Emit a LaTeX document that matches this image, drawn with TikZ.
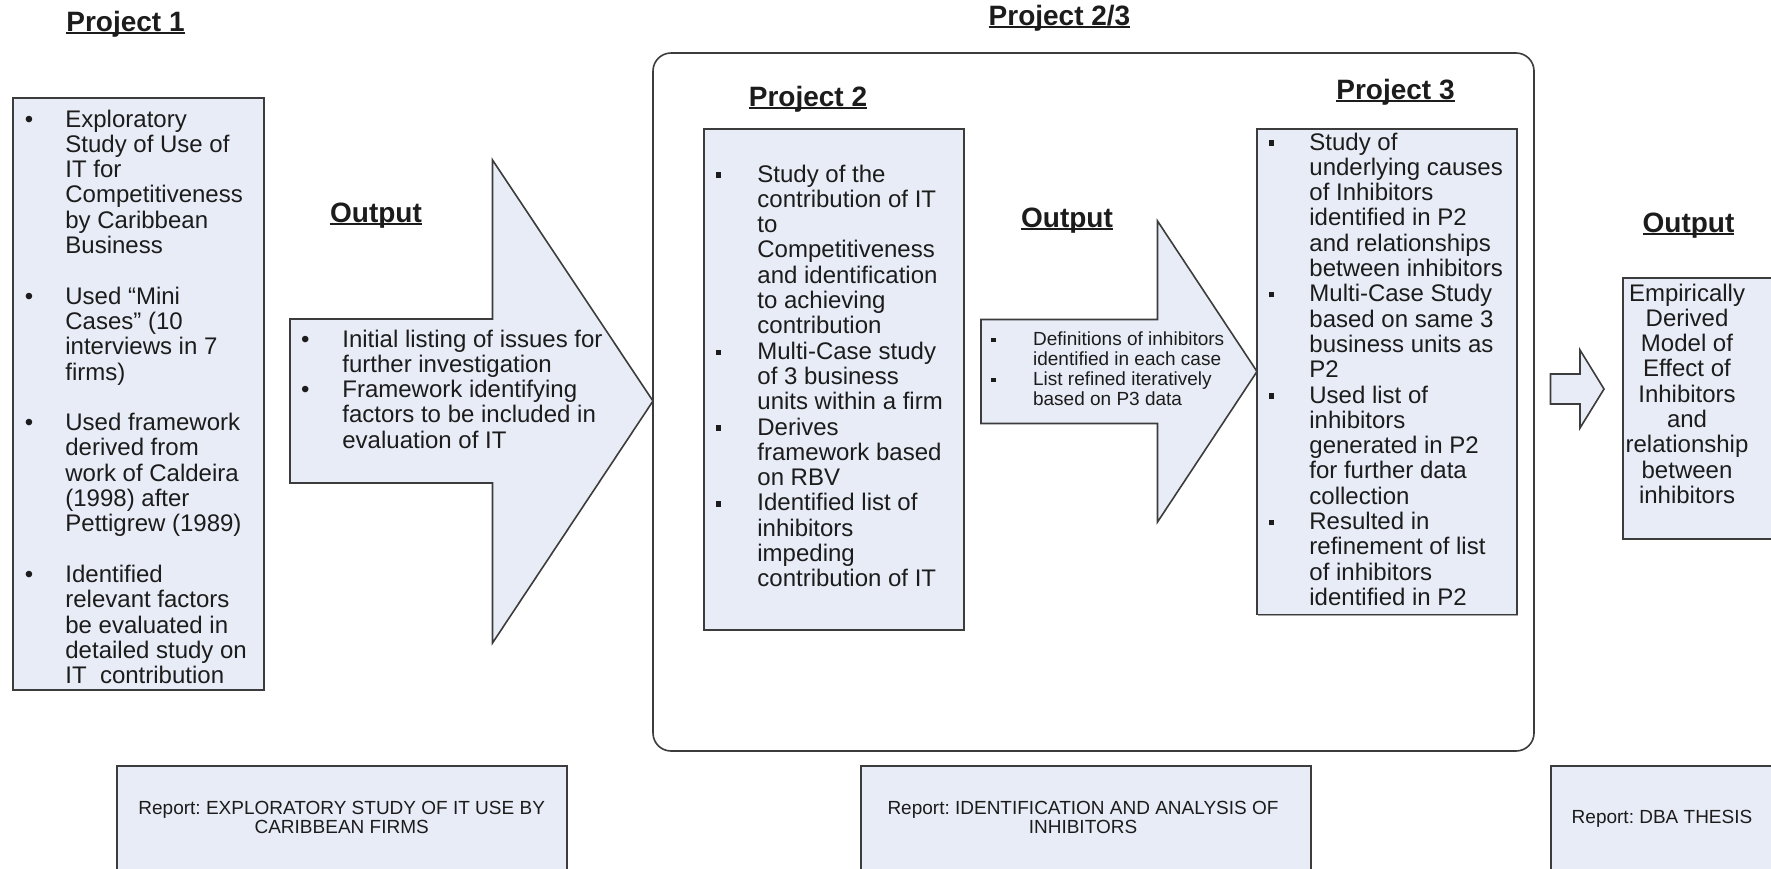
\documentclass[tikz,border=0pt]{standalone}
\usepackage{fontspec}
\setmainfont{Liberation Sans}
\usetikzlibrary{fit,shadows}
\definecolor{boxfill}{RGB}{232,236,246}
\definecolor{boxline}{RGB}{60,60,60}
\definecolor{txt}{RGB}{28,28,28}
\frenchspacing
\newcommand\ulin[1]{\setbox0\hbox{#1}\rlap{\rule[-1.6pt]{\wd0}{0.9pt}}\box0}
\newcommand\rb{\textbullet}
\newcommand\sq{\raisebox{2.2pt}{\rule{2.6pt}{2.6pt}}}
\newcommand\ssq{\raisebox{1.7pt}{\rule{2.2pt}{2.2pt}}}
\newcommand\itm[4]{\hangindent=#1\hangafter=1\noindent\makebox[#1][l]{\hspace{#2}#3}#4\par}
\newcommand\bodyfont{\fontsize{12}{12.65}\selectfont\frenchspacing}
\newcommand\smfont{\fontsize{9.5}{9.9}\selectfont\frenchspacing}
\tikzset{
  box/.style={draw=boxline, fill=boxfill, line width=0.8pt, inner sep=0pt,
    drop shadow={shadow xshift=0.7pt, shadow yshift=-0.7pt, fill=black!35, opacity=1}},
  frame/.style={draw=boxline, fill=white, line width=0.8pt, inner sep=0pt, rounded corners=9pt},
  blockarrow/.style={draw=boxline, fill=boxfill, line width=0.8pt, line join=miter},
  tx/.style={inner sep=0pt, text=txt, anchor=base west},
  ttl/.style={inner sep=0pt, text=txt, anchor=base, font=\fontsize{14}{16}\selectfont\bfseries},
}
\begin{document}
\begin{tikzpicture}[x=0.5pt,y=-0.5pt]
\useasboundingbox (0,0) rectangle (1771,868);
\clip (0,0) rectangle (1771,868);

% titles
\node[ttl] (t1) at (125.5,31) {\ulin{Project 1}};
\node[ttl] (t23) at (1059.5,25) {\ulin{Project 2/3}};
\node[ttl] (o1) at (376,222) {\ulin{Output}};

% frame for projects 2/3
\node[frame, fit={(653,53) (1534,751)}] (frame) {};
\node[ttl] (t2) at (808,106) {\ulin{Project 2}};
\node[ttl] (t3) at (1395.5,99) {\ulin{Project 3}};
\node[ttl] (o2) at (1067,227) {\ulin{Output}};
\node[ttl] (o3) at (1688.5,232) {\ulin{Output}};

% boxes
\node[box, fit={(13,98) (264,690)}] (p1box) {};
\node[box, fit={(704,129) (964,630)}] (p2box) {};
\node[box, fit={(1257,129) (1517,614.5)}] (p3box) {};
\node[box, fit={(1623,278) (1800,539)}] (o3box) {};
\node[box, fit={(117,766) (567,900)}] (r1box) {};
\node[box, fit={(861,766) (1311,900)}] (r2box) {};
\node[box, fit={(1551,766) (1800,900)}] (r3box) {};

% block arrows
\draw[blockarrow] (290,319) -- (492.5,319) -- (492.5,160) -- (653,401) -- (492.5,643) -- (492.5,483) -- (290,483) -- cycle;
\draw[blockarrow] (981,319.5) -- (1157.5,319.5) -- (1157.5,221) -- (1257,371.5) -- (1157.5,522) -- (1157.5,423.5) -- (981,423.5) -- cycle;
\draw[blockarrow] (1550.5,374) -- (1580,374) -- (1580,350) -- (1604,389) -- (1580,428) -- (1580,404) -- (1550.5,404) -- cycle;

% texts
\node[tx] (p1t) at (13,127) {\parbox[t]{125pt}{\bodyfont
\itm{26pt}{5.8pt}{\rb}{Exploratory\\Study of Use of\\IT for\\Competitiveness\\by Caribbean\\Business}
\vskip12.65pt
\itm{26pt}{5.8pt}{\rb}{Used “Mini\\Cases" (10\\interviews in 7\\firms)}
\vskip12.65pt
\itm{26pt}{5.8pt}{\rb}{Used framework\\derived from\\work of Caldeira\\(1998) after\\Pettigrew (1989)}
\vskip12.65pt
\itm{26pt}{5.8pt}{\rb}{Identified\\relevant factors\\be evaluated in\\detailed study on\\IT\hspace{0.556em}contribution}}};

\node[tx] (o1t) at (290,347) {\parbox[t]{180pt}{\bodyfont
\itm{26pt}{5.4pt}{\rb}{Initial listing of issues for\\further investigation}
\itm{26pt}{5.4pt}{\rb}{Framework identifying\\factors to be included in\\evaluation of IT}}};

\node[tx] (p2t) at (704,182) {\parbox[t]{130pt}{\bodyfont
\itm{26.5pt}{5.7pt}{\sq}{Study of the\\contribution of IT\\to\\Competitiveness\\and identification\\to achieving\\contribution}
\itm{26.5pt}{5.7pt}{\sq}{Multi-Case study\\of 3 business\\units within a firm}
\itm{26.5pt}{5.7pt}{\sq}{Derives\\framework based\\on RBV}
\itm{26.5pt}{5.7pt}{\sq}{Identified list of\\inhibitors\\impeding\\contribution of IT}}};

\node[tx] (o2t) at (981,345.7) {\parbox[t]{140pt}{\smfont
\itm{25.85pt}{5pt}{\ssq}{Definitions of inhibitors\\identified in each case}
\itm{25.85pt}{5pt}{\ssq}{List refined iteratively\\based on P3 data}}};

\node[tx] (p3t) at (1257,150) {\parbox[t]{130pt}{\bodyfont
\itm{26pt}{5.7pt}{\sq}{Study of\\underlying causes\\of Inhibitors\\identified in P2\\and relationships\\between inhibitors}
\itm{26pt}{5.7pt}{\sq}{Multi-Case Study\\based on same 3\\business units as\\P2}
\itm{26pt}{5.7pt}{\sq}{Used list of\\inhibitors\\generated in P2\\for further data\\collection}
\itm{26pt}{5.7pt}{\sq}{Resulted in\\refinement of list\\of inhibitors\\identified in P2}}};

\node[tx, anchor=base] (o3t) at (1687,301) {\parbox[t]{120pt}{\bodyfont\centering
Empirically\\Derived\\Model of\\Effect of\\Inhibitors\\and\\relationship\\between\\inhibitors}};

\node[tx, anchor=base] (r1t) at (341.7,814) {\parbox[t]{220pt}{\smfont\centering
Report: EXPLORATORY STUDY OF IT USE BY\\CARIBBEAN FIRMS}};
\node[tx, anchor=base] (r2t) at (1083,814) {\parbox[t]{220pt}{\smfont\centering
Report: IDENTIFICATION AND ANALYSIS OF\\INHIBITORS}};
\node[tx, anchor=base] (r3t) at (1662,823) {\smfont Report: DBA THESIS};
\end{tikzpicture}
\end{document}
